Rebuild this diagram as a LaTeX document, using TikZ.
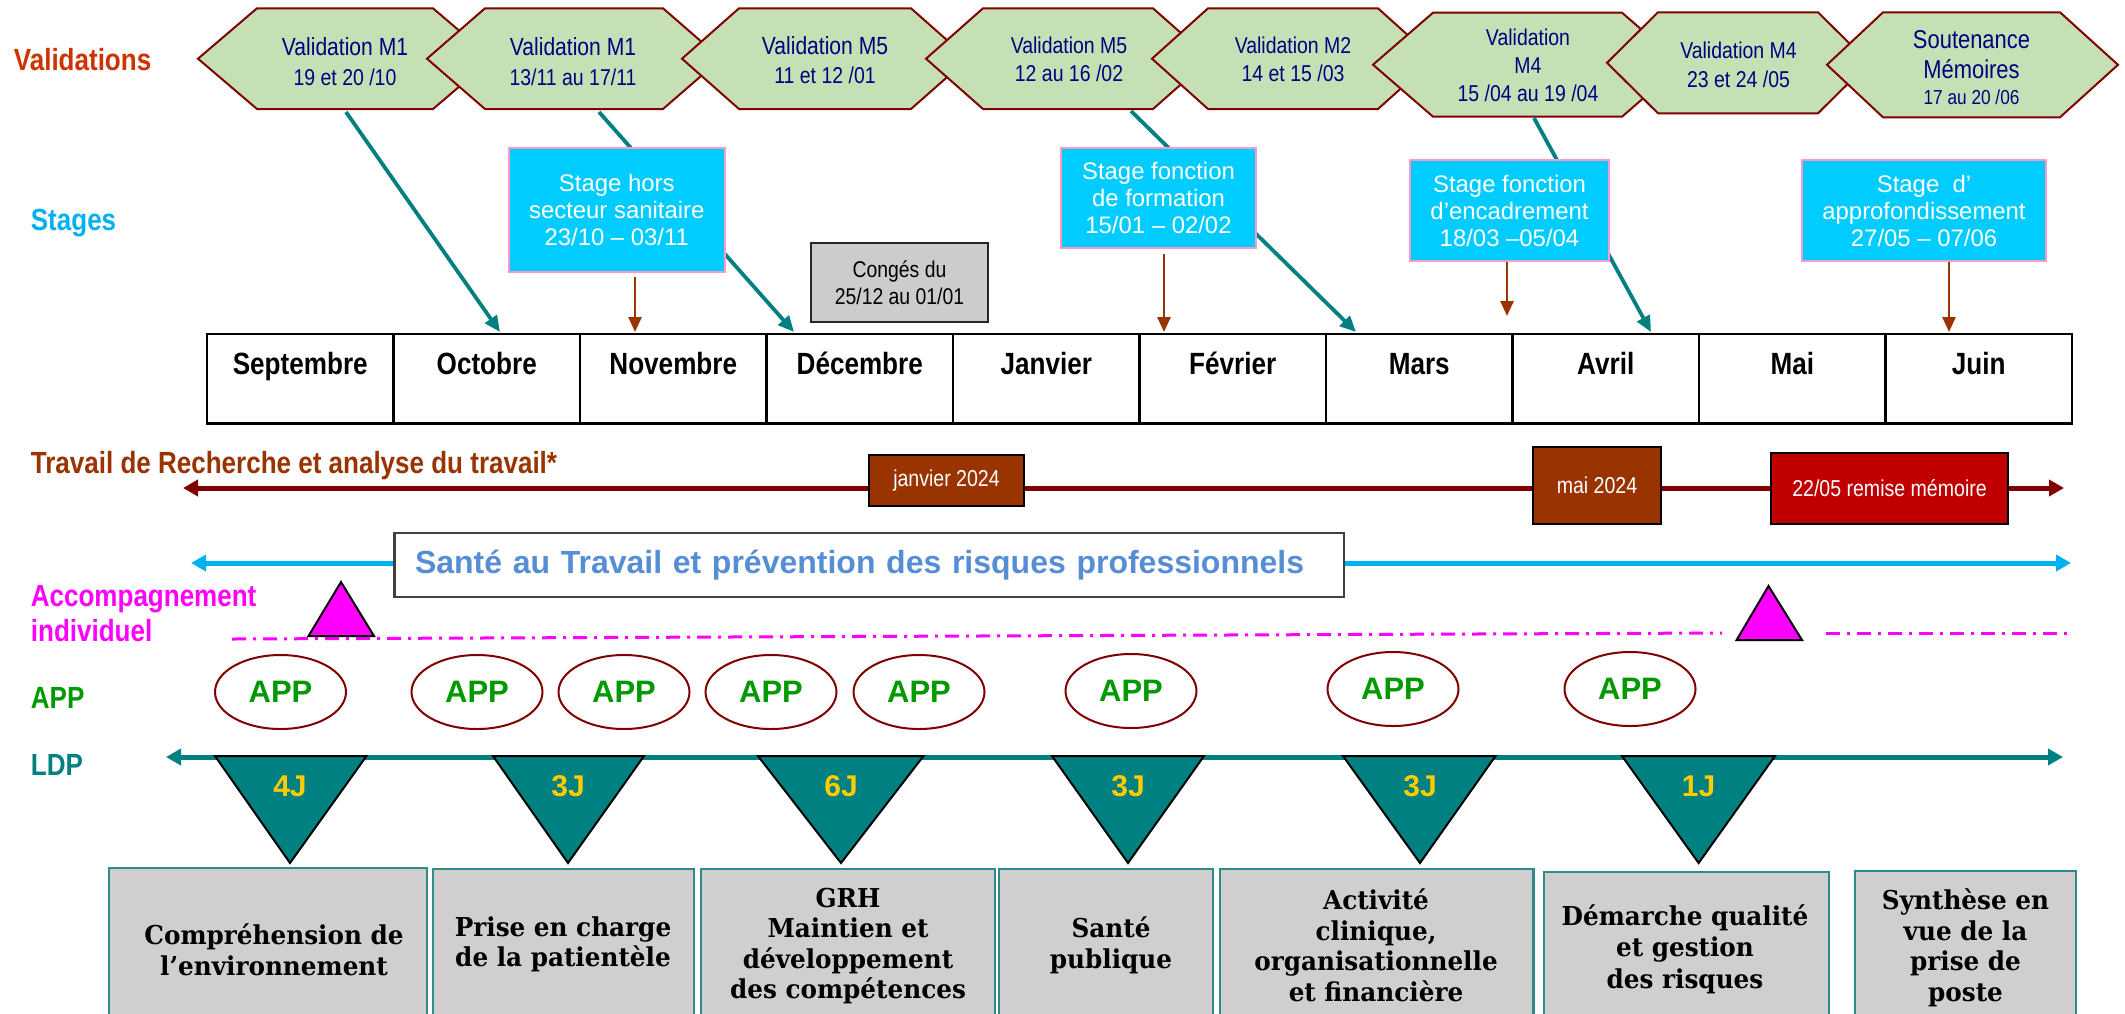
\documentclass[tikz,border=0pt]{standalone}
\usepackage{fontspec}
\setmainfont{Liberation Sans}
\newfontfamily\narf{Liberation Sans}[FakeStretch=0.85]
\newfontfamily\serf{DejaVu Serif}[FakeStretch=0.95]
\usetikzlibrary{arrows.meta,shapes.geometric}
\definecolor{valred}{RGB}{204,51,0}
\definecolor{stgblue}{RGB}{0,176,240}
\definecolor{brn}{RGB}{153,51,0}
\definecolor{mag}{RGB}{255,0,255}
\definecolor{appg}{RGB}{0,153,0}
\definecolor{tealc}{RGB}{0,128,128}
\definecolor{hexfill}{RGB}{197,224,180}
\definecolor{hexbord}{RGB}{128,0,0}
\definecolor{hexnavy}{RGB}{0,0,128}
\definecolor{stgfill}{RGB}{0,204,255}
\definecolor{stgbord}{RGB}{255,153,204}
\definecolor{congfill}{RGB}{204,204,204}
\definecolor{darkr}{RGB}{128,0,0}
\definecolor{remred}{RGB}{192,0,0}
\definecolor{santetxt}{RGB}{85,142,213}
\definecolor{jaune}{RGB}{255,204,0}
\definecolor{boxgray}{RGB}{208,206,207}
\definecolor{boxbord}{RGB}{46,139,139}
\tikzset{
  rowlbl/.style={anchor=base west, inner sep=0, font=\narf\bfseries\fontsize{30.6}{36}\selectfont},
  hexshape/.style={fill=hexfill, draw=hexbord, line width=2pt},
  hexline/.style={anchor=base, inner sep=0, text=hexnavy},
  hbig/.style={font=\narf\fontsize{24.8}{28}\selectfont},
  hmid/.style={font=\narf\fontsize{22.9}{28}\selectfont},
  monthcell/.style={draw=black, line width=2.7pt, minimum width=186.5pt, minimum height=89.5pt, inner sep=0},
  monthtxt/.style={anchor=base, inner sep=0, font=\narf\bfseries\fontsize{30.7}{36}\selectfont},
  stagebox/.style={fill=stgfill, draw=stgbord, line width=2pt, text=white, align=center, inner sep=0, font=\fontsize{23.9}{27}\selectfont},
  tealarrow/.style={draw=tealc, line width=3.8pt, -{Triangle[length=16pt,width=14pt]}},
  brarrow/.style={draw=brn, line width=2.7pt, -{Triangle[length=15pt,width=13pt]}},
  trbox/.style={draw=black, line width=2pt, text=white, inner sep=0, font=\narf\fontsize{23}{27}\selectfont},
  appc/.style={ellipse, draw=darkr, line width=2pt, fill=white, minimum width=131pt, minimum height=74pt, inner sep=0, text=appg, font=\bfseries\fontsize{31}{36}\selectfont},
  ldptri/.style={fill=tealc, draw=black, line width=2pt, line join=miter},
  jtxt/.style={anchor=base, inner sep=0, text=jaune, font=\bfseries\fontsize{30}{34}\selectfont},
  magtri/.style={fill=mag, draw=black, line width=2pt},
  bbox/.style={fill=boxgray, draw=boxbord, line width=2.5pt, inner sep=0},
  btxt/.style={align=center, inner sep=0, font=\serf\bfseries\fontsize{26}{30.5}\selectfont}
}
\begin{document}
\begin{tikzpicture}[x=1pt,y=-1pt]
\useasboundingbox (0,0) rectangle (2125,1013);
\clip (0,0) rectangle (2125,1013);

% ---------- row labels ----------
\node[rowlbl, text=valred] (lval) at (13.7,70.7) {Validations};
\node[rowlbl, text=stgblue] (lstg) at (30.7,230.7) {Stages};
\node[rowlbl, text=brn] (ltr) at (30.7,473.3) {Travail de Recherche et analyse du travail*};
\node[rowlbl, text=mag] (lacc) at (30.7,606.7) {Accompagnement};
\node[rowlbl, text=mag] (lind) at (30.7,641.7) {individuel};
\node[rowlbl, text=appg] (lapp) at (30.7,708) {APP};
\node[rowlbl, text=tealc] (lldp) at (30.7,775) {LDP};

% ---------- validation hexagons ----------
\filldraw[hexshape] (198,58.7) -- (257,8.3) -- (433,8.3) -- (492,58.7) -- (433,109) -- (257,109) -- cycle;
\filldraw[hexshape] (427,58.7) -- (485,8.3) -- (663,8.3) -- (721,58.7) -- (663,109) -- (485,109) -- cycle;
\filldraw[hexshape] (682,58.7) -- (739,8.3) -- (911,8.3) -- (968,58.7) -- (911,109) -- (739,109) -- cycle;
\filldraw[hexshape] (926,58.7) -- (983,8.3) -- (1153,8.3) -- (1210,58.7) -- (1153,109) -- (983,109) -- cycle;
\filldraw[hexshape] (1152,58.7) -- (1208,8.3) -- (1378,8.3) -- (1434,58.7) -- (1378,109) -- (1208,109) -- cycle;
\filldraw[hexshape] (1373,64.7) -- (1433,12.7) -- (1622,12.7) -- (1682,64.7) -- (1622,116.7) -- (1433,116.7) -- cycle;
\filldraw[hexshape] (1607,62.8) -- (1658,12.3) -- (1818,12.3) -- (1869,62.8) -- (1818,113.3) -- (1658,113.3) -- cycle;
\filldraw[hexshape] (1827,64.8) -- (1883,12.3) -- (2060,12.3) -- (2118,64.8) -- (2060,117.3) -- (1883,117.3) -- cycle;

\node[hexline,hbig] (h1a) at (345,55) {Validation M1};
\node[hexline,hmid] (h1b) at (345,85) {19 et 20 /10};
\node[hexline,hbig] (h2a) at (573,55) {Validation M1};
\node[hexline,hmid] (h2b) at (573,85) {13/11 au 17/11};
\node[hexline,hbig] (h3a) at (825,54.3) {Validation M5};
\node[hexline,hmid] (h3b) at (825,83.3) {11 et 12 /01};
\node[hexline,hmid] (h4a) at (1069,53.3) {Validation M5};
\node[hexline,hmid] (h4b) at (1069,81) {12 au 16 /02};
\node[hexline,hmid] (h5a) at (1293,53.3) {Validation M2};
\node[hexline,hmid] (h5b) at (1293,81.7) {14 et 15 /03};
\node[hexline,hmid] (h6a) at (1528,45) {Validation};
\node[hexline,hmid] (h6b) at (1528,73) {M4};
\node[hexline,hmid] (h6c) at (1528,101.7) {15 /04 au 19 /04};
\node[hexline,hmid] (h7a) at (1738.5,58.3) {Validation M4};
\node[hexline,hmid] (h7b) at (1738.5,87.3) {23 et 24 /05};
\node[hexline,font=\narf\fontsize{25.8}{28}\selectfont] (h8a) at (1971.5,48.3) {Soutenance};
\node[hexline,font=\narf\fontsize{25.8}{28}\selectfont] (h8b) at (1971.5,78.3) {Mémoires};
\node[hexline,font=\narf\fontsize{20.3}{24}\selectfont] (h8c) at (1971.5,104) {17 au 20 /06};

% ---------- connector end points ----------
\coordinate (v1) at (346,112);   \coordinate (v1e) at (500,332);
\coordinate (v2) at (599,112);   \coordinate (v2e) at (794,332);
\coordinate (v4) at (1131,111);  \coordinate (v4e) at (1356,332);
\coordinate (v6) at (1534,118);  \coordinate (v6e) at (1651,332);

\draw[tealarrow] (v1) -- (v1e);
\draw[tealarrow] (v2) -- (v2e);
\draw[tealarrow] (v4) -- (v4e);
\draw[tealarrow] (v6) -- (v6e);

% ---------- stages ----------
\node[stagebox, minimum width=216.5pt, minimum height=124pt] (s1) at (616.75,210) {Stage hors\\secteur sanitaire\\23/10 – 03/11};
\node[stagebox, minimum width=195pt, minimum height=100pt] (s2) at (1158.5,198) {Stage fonction\\de formation\\15/01 – 02/02};
\node[stagebox, minimum width=199pt, minimum height=101pt] (s3) at (1509.5,210.5) {Stage fonction\\d’encadrement\\18/03 –05/04};
\node[stagebox, minimum width=244pt, minimum height=101pt] (s4) at (1924,210.5) {Stage\ \ d’\\approfondissement\\27/05 – 07/06};

\node[draw=black!85, fill=congfill, line width=2.5pt, minimum width=177pt, minimum height=79pt, inner sep=0, align=center, font=\narf\fontsize{22.8}{27}\selectfont] (cong) at (899.5,282.5) {Congés du\\25/12 au 01/01};

\coordinate (b1s) at (635,277);  \coordinate (b1e) at (635,332);
\coordinate (b2s) at (1164,254); \coordinate (b2e) at (1164,332);
\coordinate (b3s) at (1507,262); \coordinate (b3e) at (1507,316);
\coordinate (b4s) at (1949,262); \coordinate (b4e) at (1949,332);
\draw[brarrow] (b1s) -- (b1e);
\draw[brarrow] (b2s) -- (b2e);
\draw[brarrow] (b3s) -- (b3e);
\draw[brarrow] (b4s) -- (b4e);

% ---------- months ----------
\foreach \m [count=\i] in {Septembre,Octobre,Novembre,Décembre,Janvier,Février,Mars,Avril,Mai,Juin}{
  \node[monthcell] (m\i) at ({207+186.5*(\i-0.5)},378.75) {};
  \node[monthtxt] (mt\i) at ({207+186.5*(\i-0.5)},374.3) {\m};
}

% ---------- travail de recherche ----------
\coordinate (trl) at (183,488);
\coordinate (trr) at (2064,488);
\draw[draw=darkr, line width=5pt, {Triangle[length=15pt,width=16pt]}-{Triangle[length=15pt,width=16pt]}] (trl) -- (trr);
\node[trbox, fill=brn, minimum width=155pt, minimum height=51pt] (jan) at (946.5,480.5) {janvier 2024};
\node[trbox, fill=brn, minimum width=127.5pt, minimum height=77pt] (mai) at (1597,485.5) {mai 2024};
\node[trbox, fill=remred, minimum width=237pt, minimum height=71pt] (rem) at (1889.5,488.5) {22/05 remise mémoire};

% ---------- sante au travail ----------
\coordinate (stl) at (191,563);
\coordinate (str) at (2071,563);
\draw[draw=stgblue, line width=5pt, {Triangle[length=15pt,width=16pt]}-{Triangle[length=15pt,width=16pt]}] (stl) -- (str);
\node[draw=black!75, fill=white, line width=2.5pt, inner xsep=20.5pt, inner ysep=0, minimum height=64pt, text width=908.5pt, align=left, text=santetxt, font=\bfseries\fontsize{32}{36}\selectfont] (sante) at (869.25,565) {Santé au Travail et prévention des risques professionnels};

% ---------- accompagnement individuel ----------
\coordinate (acl) at (232,639);
\coordinate (acm) at (1722,633);
\coordinate (acn) at (1826,633);
\coordinate (acr) at (2072,633);
\draw[draw=mag, line width=3pt, dash pattern=on 14pt off 7pt on 3pt off 7pt] (acl) -- (acm);
\draw[draw=mag, line width=3pt, dash pattern=on 14pt off 7pt on 3pt off 7pt] (acn) -- (acr);
\filldraw[magtri] (308.5,636) -- (374,636) -- (341,582) -- cycle;
\filldraw[magtri] (1736.6,640) -- (1802,640) -- (1768.5,586) -- cycle;

% ---------- APP ----------
\node[appc] (c1) at (280.5,692) {APP};
\node[appc] (c2) at (477,692) {APP};
\node[appc] (c3) at (624,692) {APP};
\node[appc] (c4) at (771,692) {APP};
\node[appc] (c5) at (919,692) {APP};
\node[appc] (c6) at (1131,691) {APP};
\node[appc] (c7) at (1393,689) {APP};
\node[appc] (c8) at (1630,689) {APP};

% ---------- LDP ----------
\coordinate (ldl) at (166,757);
\coordinate (ldr) at (2063,757);
\draw[draw=tealc, line width=5pt, {Triangle[length=15pt,width=16pt]}-{Triangle[length=15pt,width=16pt]}] (ldl) -- (ldr);
\filldraw[ldptri] (215,756) -- (366.5,756) -- (290,863) -- cycle;
\filldraw[ldptri] (493,756) -- (644,756) -- (568,863) -- cycle;
\filldraw[ldptri] (758,756) -- (923.5,756) -- (841,863) -- cycle;
\filldraw[ldptri] (1052,756) -- (1204,756) -- (1128,863) -- cycle;
\filldraw[ldptri] (1343,756) -- (1495.5,756) -- (1420,863) -- cycle;
\filldraw[ldptri] (1622,756) -- (1775,756) -- (1698.6,863) -- cycle;
\node[jtxt] (j1) at (290,796) {4J};
\node[jtxt] (j2) at (568,796) {3J};
\node[jtxt] (j3) at (841,796) {6J};
\node[jtxt] (j4) at (1128,796) {3J};
\node[jtxt] (j5) at (1420,796) {3J};
\node[jtxt] (j6) at (1698.6,796) {1J};

% ---------- modules ----------
\node[bbox, minimum width=318pt, minimum height=162pt] (bx1) at (268,949) {};
\node[bbox, minimum width=261pt, minimum height=161pt] (bx2) at (563.5,949.5) {};
\node[bbox, minimum width=294pt, minimum height=161pt] (bx3) at (848,949.5) {};
\node[bbox, minimum width=214pt, minimum height=161pt] (bx4) at (1106,949.5) {};
\node[bbox, minimum width=313.5pt, minimum height=161pt] (bx5) at (1376.75,949.5) {};
\node[bbox, minimum width=285pt, minimum height=158pt] (bx6) at (1686.5,951) {};
\node[bbox, minimum width=221pt, minimum height=159pt] (bx7) at (1965.5,950.5) {};

\node[btxt] (bt1) at (274,950) {Compréhension de\\l’environnement};
\node[btxt] (bt2) at (563,944.5) {Prise en charge\\de la patientèle};
\node[btxt] (bt3) at (848,946) {GRH\\Maintien et\\développement\\des compétences};
\node[btxt] (bt4) at (1111,945.5) {Santé\\publique};
\node[btxt] (bt5) at (1376,945.5) {Activité\\clinique,\\organisationnelle\\et financière};
\node[btxt, font=\serf\bfseries\fontsize{26}{31.5}\selectfont] (bt6) at (1685,949) {Démarche qualité\\et gestion\\des risques};
\node[btxt] (bt7) at (1965.5,948) {Synthèse en\\vue de la\\prise de\\poste};
\end{tikzpicture}
\end{document}
